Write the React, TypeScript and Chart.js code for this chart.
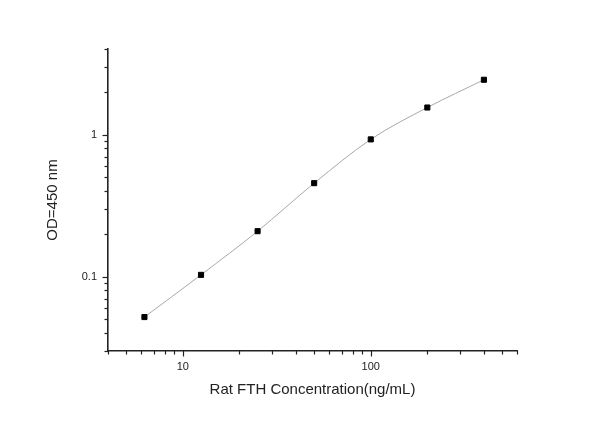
import React, { useEffect, useRef } from "react";
import { Chart, registerables } from "chart.js";

Chart.register(...registerables);

const concentrations = [6.25, 12.5, 25, 50, 100, 200, 400];
const odValues = [0.052, 0.103, 0.209, 0.455, 0.925, 1.55, 2.43];
const xTickLabels = [10, 100];
const yTickLabels = [0.1, 1];

const FONT = "'Liberation Sans', Arial, sans-serif";
const AXIS_COLOR = "#222222";

const logTickPlugin = {
  id: "logTicks",
  afterDraw(chart: any) {
    const ctx = chart.ctx;
    const area = chart.chartArea;
    ctx.save();
    ctx.strokeStyle = AXIS_COLOR;
    ctx.lineWidth = 1.2;
    const drawFor = (scale: any, horizontal: boolean) => {
      const min = scale.min;
      const max = scale.max;
      const e0 = Math.floor(Math.log10(min)) - 1;
      const e1 = Math.ceil(Math.log10(max)) + 1;
      for (let e = e0; e <= e1; e++) {
        for (let d = 1; d <= 9; d++) {
          const v = parseFloat((d * Math.pow(10, e)).toPrecision(6));
          if (v < min * 0.9999 || v > max * 1.0001) continue;
          const len = d === 1 ? 5.5 : 3.5;
          const p = Math.round(scale.getPixelForValue(v)) + 0.5;
          ctx.beginPath();
          if (horizontal) {
            ctx.moveTo(p, area.bottom);
            ctx.lineTo(p, area.bottom + len);
          } else {
            ctx.moveTo(area.left, p);
            ctx.lineTo(area.left - len, p);
          }
          ctx.stroke();
        }
      }
    };
    drawFor(chart.scales.x, true);
    drawFor(chart.scales.y, false);
    ctx.restore();
  },
};

export default function App() {
  const ref = useRef<HTMLCanvasElement | null>(null);

  useEffect(() => {
    if (!ref.current) return;
    const chart = new Chart(ref.current, {
      type: "line",
      data: {
        labels: concentrations,
        datasets: [
          {
            data: concentrations.map((c, i) => ({ x: c, y: odValues[i] })),
            borderColor: "#a8a8a8",
            borderWidth: 1,
            backgroundColor: "#000000",
            pointBackgroundColor: "#000000",
            pointBorderColor: "#000000",
            pointBorderWidth: 1,
            pointStyle: "rect",
            pointRadius: 3.6,
            cubicInterpolationMode: "monotone",
            fill: false,
          },
        ],
      },
      options: {
        animation: false,
        responsive: false,
        events: [],
        layout: { padding: { top: 49, right: 83, left: 0, bottom: 0 } },
        plugins: {
          legend: { display: false },
          tooltip: { enabled: false },
        },
        scales: {
          x: {
            type: "logarithmic",
            position: "bottom",
            min: 4,
            max: 600,
            grid: { display: false, drawTicks: false },
            border: { display: true, color: AXIS_COLOR, width: 1.6 },
            ticks: {
              autoSkip: false,
              maxRotation: 0,
              padding: 9,
              color: "#222222",
              font: { family: FONT, size: 11 },
              callback: (v: any) => {
                const n = Number(v);
                return xTickLabels.some((t) => Math.abs(t - n) < 1e-6) ? String(n) : "";
              },
            },
            title: {
              display: true,
              text: "Rat FTH Concentration(ng/mL)",
              color: "#222222",
              font: { family: FONT, size: 15 },
              padding: { top: 0, bottom: 22 },
            },
            afterFit: (s: any) => {
              s.height = 70;
            },
          },
          y: {
            type: "logarithmic",
            position: "left",
            min: 0.03,
            max: 4,
            grid: { display: false, drawTicks: false },
            border: { display: true, color: AXIS_COLOR, width: 1.6 },
            ticks: {
              autoSkip: false,
              padding: 11,
              color: "#222222",
              font: { family: FONT, size: 11 },
              callback: (v: any) => {
                const n = Number(v);
                return yTickLabels.some((t) => Math.abs(t - n) < 1e-9) ? String(n) : "";
              },
            },
            title: {
              display: true,
              text: "OD=450 nm",
              color: "#222222",
              font: { family: FONT, size: 15 },
              padding: { top: 44, bottom: 0 },
            },
            afterFit: (s: any) => {
              s.width = 108;
            },
          },
        },
      },
      plugins: [logTickPlugin],
    } as any);
    return () => chart.destroy();
  }, []);

  return (
    <div style={{ position: "absolute", left: 0, top: 0, width: 600, height: 421, background: "#fff" }}>
      <canvas ref={ref} width={600} height={421} style={{ display: "block" }} />
    </div>
  );
}
